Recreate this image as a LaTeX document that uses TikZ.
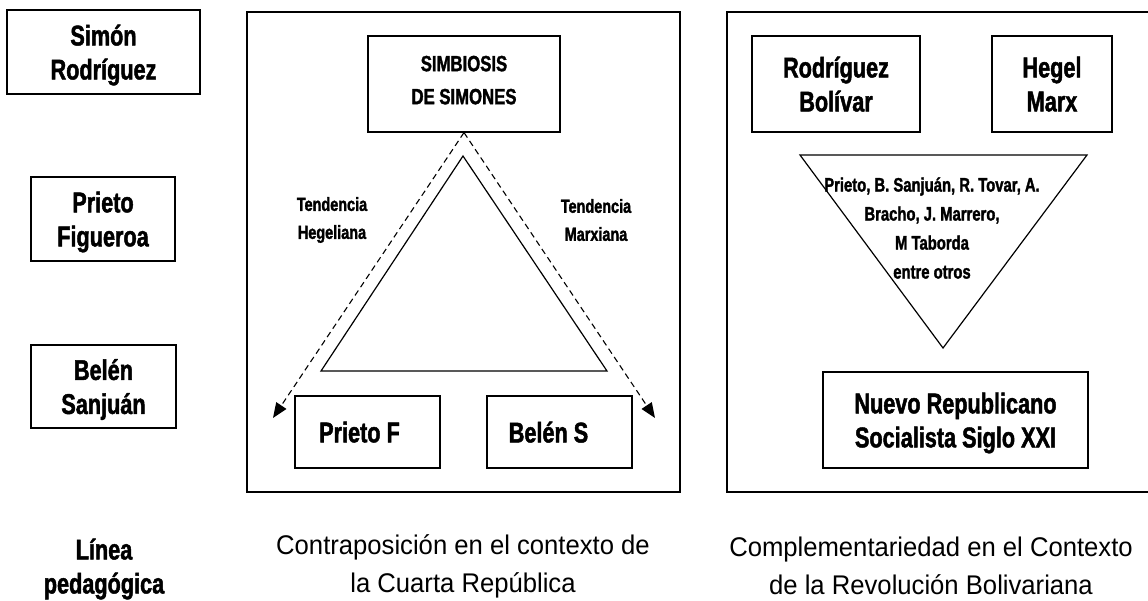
\documentclass[tikz,border=0pt]{standalone}
\usepackage{fontspec}
\usetikzlibrary{arrows.meta}
\newfontfamily\agency{Liberation Sans}[FakeStretch=0.76, BoldFeatures={FakeBold=1.6}]
\newfontfamily\capfont{Liberation Sans}[FakeStretch=0.95]
\begin{document}
\begin{tikzpicture}[x=1pt,y=-1pt,
  box/.style={draw, line width=1.2pt, inner sep=0pt, align=center},
  bigtxt/.style={font=\agency\bfseries\fontsize{28.5}{34}\selectfont, text depth=0pt},
  midtxt/.style={font=\agency\bfseries\fontsize{22}{33}\selectfont, text depth=8pt},
  smalltxt/.style={font=\agency\bfseries\fontsize{19}{28}\selectfont, align=center, inner sep=0pt},
  captxt/.style={font=\capfont\fontsize{27}{38}\selectfont, align=center, inner sep=0pt},
  panel/.style={draw, line width=1.2pt},
  tri/.style={draw, line width=1.2pt, line join=miter},
  dasharrow/.style={draw, line width=1.1pt, dash pattern=on 6pt off 4pt, -{Triangle[length=15pt,width=12pt]}}
]
\useasboundingbox (0,0) rectangle (1148,600);
\fill[white] (0,0) rectangle (1148,600);

% left column
\node[box, bigtxt, minimum width=193pt, minimum height=84pt] (simon) at (103.5,52) {Simón\\Rodríguez};
\node[box, bigtxt, minimum width=144pt, minimum height=84pt] (prieto) at (103,219) {Prieto\\Figueroa};
\node[box, bigtxt, minimum width=145pt, minimum height=83pt] (belen) at (103.5,386.5) {Belén\\Sanjuán};
\node[bigtxt, align=center, inner sep=0pt, text depth=4pt] (linea) at (104,568) {Línea\\pedagógica};

% middle panel
\draw[panel] (247,12) rectangle (680,492);
\node[box, midtxt, minimum width=192pt, minimum height=96pt] (simb) at (464,84) {SIMBIOSIS\\DE SIMONES};
\coordinate (ta) at (463,156);
\coordinate (tb) at (321,371);
\coordinate (tc) at (607,371);
\draw[tri] (ta) -- (tb) -- (tc) -- cycle;
\node[box, bigtxt, minimum width=145pt, minimum height=72pt] (pf) at (367.5,432) {Prieto F\hspace{16pt}};
\node[box, bigtxt, minimum width=145pt, minimum height=72pt] (bs) at (559.5,432) {Belén S\hspace{22pt}};
\coordinate (la) at (273,418);
\coordinate (ra) at (655,418);
\draw[dasharrow] (simb.south) -- (la);
\draw[dasharrow] (simb.south) -- (ra);
\node[smalltxt] (heg) at (332,220) {Tendencia\\Hegeliana};
\node[smalltxt] (marx) at (596,220) {Tendencia\\Marxiana};

% right panel
\draw[panel] (727,12) rectangle (1152,492);
\node[box, bigtxt, minimum width=168pt, minimum height=96pt] (rb) at (836,84) {Rodríguez\hspace{6pt}\\Bolívar\hspace{10pt}};
\node[box, bigtxt, minimum width=120pt, minimum height=96pt] (hm) at (1052,84) {Hegel\\Marx};
\coordinate (ia) at (800,155);
\coordinate (ib) at (1087,155);
\coordinate (ic) at (943,348);
\draw[tri] (ia) -- (ib) -- (ic) -- cycle;
\node[smalltxt, font=\agency\bfseries\fontsize{19.5}{29}\selectfont] (names) at (932,228) {Prieto, B. Sanjuán, R. Tovar, A.\\Bracho, J. Marrero,\\M Taborda\\entre otros};
\node[box, bigtxt, minimum width=265pt, minimum height=96pt] (nuevo) at (955.5,420) {Nuevo Republicano\hspace{16pt}\\Socialista Siglo XXI\hspace{16pt}};

% captions
\node[captxt] (cap1) at (463,566) {Contraposición en el contexto de\\la Cuarta República};
\node[captxt] (cap2) at (931,566) {Complementariedad en el Contexto\\de la Revolución Bolivariana};
\end{tikzpicture}
\end{document}
